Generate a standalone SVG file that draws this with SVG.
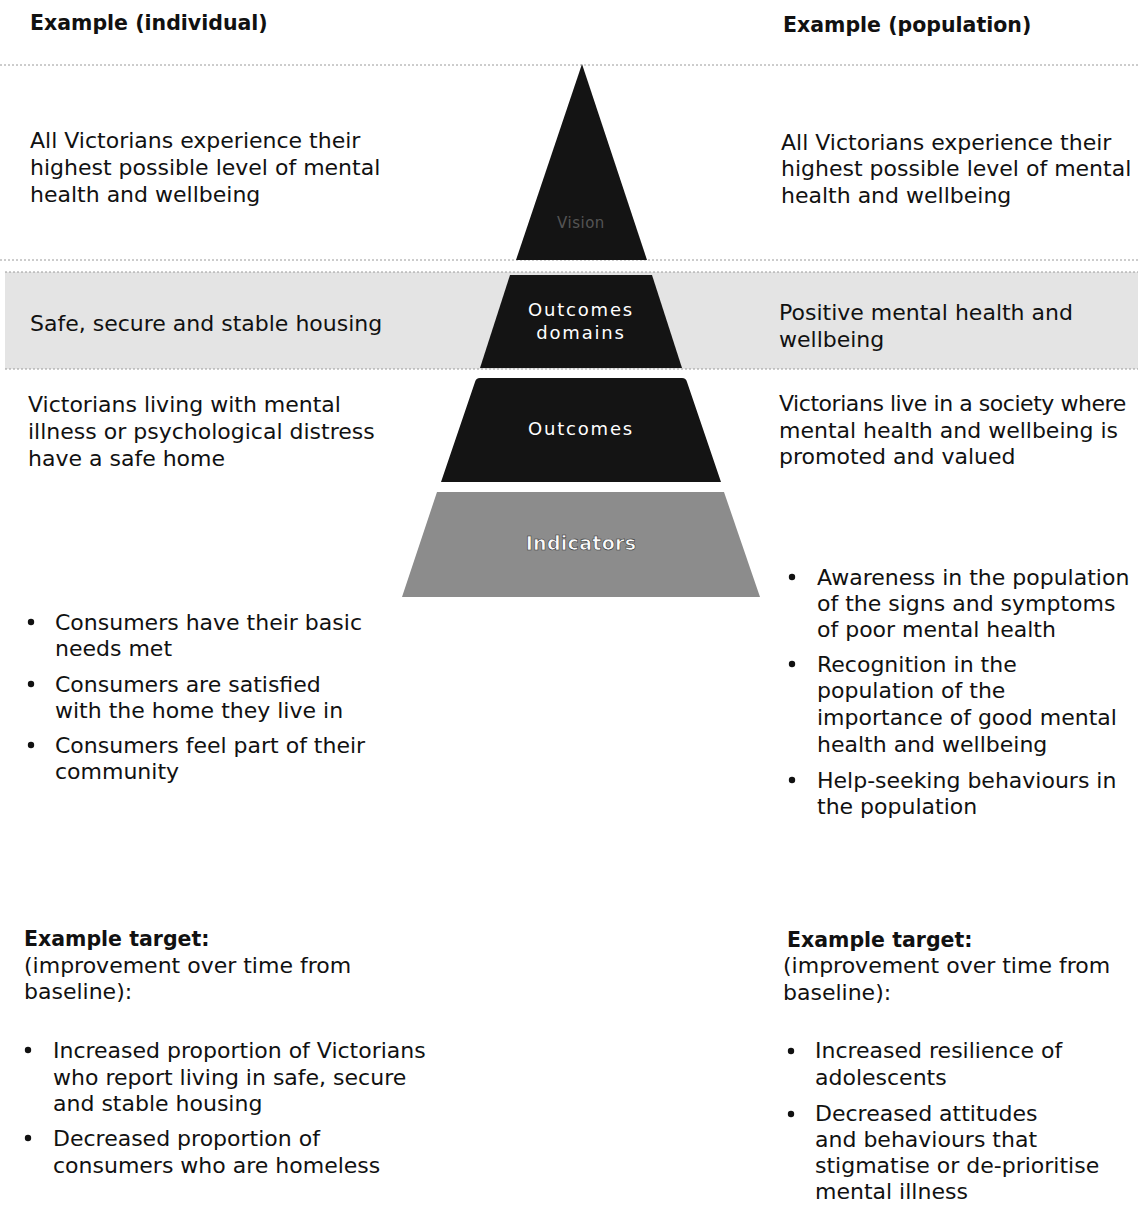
<svg xmlns="http://www.w3.org/2000/svg" width="1138" height="1205" viewBox="0 0 1138 1205">
<style>
  text { font-family: "DejaVu Sans", "Noto Sans", sans-serif; font-size: 22px; fill: #111; }
  .h { font-weight: bold; font-size: 20.5px; }
  .lbl { fill: #fff; font-size: 18px; text-anchor: middle; letter-spacing: 1.8px; }
  .dark { fill: #141414; }
  .sep { stroke: #9a9a9a; stroke-width: 1; stroke-dasharray: 2 2; fill: none; }
  .dot { fill: #111; }
</style>
<rect width="1138" height="1205" fill="#fff"/>

<!-- background band and separators -->
<g id="bands">
  <rect x="5" y="272" width="1133" height="97" fill="#e4e4e4"/>
  <line class="sep" x1="0" y1="65" x2="1138" y2="65"/>
  <line class="sep" x1="0" y1="260" x2="1138" y2="260"/>
  <line class="sep" x1="5" y1="272" x2="1138" y2="272"/>
  <line class="sep" x1="5" y1="369" x2="1138" y2="369"/>
</g>

<g id="connectors"/>

<!-- pyramid -->
<g id="vision">
  <polygon class="dark" points="582,64 647,260 516,260"/>
  <text class="lbl" x="581" y="228" style="fill:#555;font-size:15px;letter-spacing:0.5px">Vision</text>
</g>
<g id="outcomes-domains">
  <polygon class="dark" points="510,275 652,275 682,368 480,368"/>
  <text class="lbl" x="581" y="316">Outcomes</text>
  <text class="lbl" x="581" y="339">domains</text>
</g>
<g id="outcomes">
  <path class="dark" d="M480,378 L682,378 Q686,378 687,382 L721,482 L441,482 L475,382 Q476,378 480,378 Z"/>
  <text class="lbl" x="581" y="435">Outcomes</text>
</g>
<g id="indicators">
  <polygon points="437,492 724,492 760,597 402,597" fill="#8c8c8c"/>
  <text class="lbl" x="581" y="550" style="fill:#fafafa;stroke:#333;stroke-width:0.6;font-size:19px;font-weight:bold;letter-spacing:0.3px">Indicators</text>
</g>

<!-- left column -->
<g id="heading-individual">
  <text class="h" x="30" y="30">Example (individual)</text>
</g>
<g id="vision-individual">
  <text x="30" y="148">All Victorians experience their</text>
  <text x="30" y="175">highest possible level of mental</text>
  <text x="30" y="202">health and wellbeing</text>
</g>
<g id="domain-individual">
  <text x="30" y="331">Safe, secure and stable housing</text>
</g>
<g id="outcome-individual">
  <text x="28" y="412">Victorians living with mental</text>
  <text x="28" y="439">illness or psychological distress</text>
  <text x="28" y="466">have a safe home</text>
</g>
<g id="indicators-individual">
  <circle class="dot" cx="31" cy="622" r="3.2"/>
  <text x="55" y="630">Consumers have their basic</text>
  <text x="55" y="656">needs met</text>
  <circle class="dot" cx="31" cy="684" r="3.2"/>
  <text x="55" y="692">Consumers are satisfied</text>
  <text x="55" y="718">with the home they live in</text>
  <circle class="dot" cx="31" cy="745" r="3.2"/>
  <text x="55" y="753">Consumers feel part of their</text>
  <text x="55" y="779">community</text>
</g>
<g id="target-individual">
  <text class="h" x="24" y="946">Example target:</text>
  <text x="24" y="973">(improvement over time from</text>
  <text x="24" y="999">baseline):</text>
  <circle class="dot" cx="28" cy="1050" r="3.2"/>
  <text x="53" y="1058">Increased proportion of Victorians</text>
  <text x="53" y="1085">who report living in safe, secure</text>
  <text x="53" y="1111">and stable housing</text>
  <circle class="dot" cx="28" cy="1138" r="3.2"/>
  <text x="53" y="1146">Decreased proportion of</text>
  <text x="53" y="1173">consumers who are homeless</text>
</g>

<!-- right column -->
<g id="heading-population">
  <text class="h" x="783" y="32">Example (population)</text>
</g>
<g id="vision-population">
  <text x="781" y="150">All Victorians experience their</text>
  <text x="781" y="176">highest possible level of mental</text>
  <text x="781" y="203">health and wellbeing</text>
</g>
<g id="domain-population">
  <text x="779" y="320">Positive mental health and</text>
  <text x="779" y="347">wellbeing</text>
</g>
<g id="outcome-population">
  <text x="779" y="411" style="letter-spacing:-0.45px">Victorians live in a society where</text>
  <text x="779" y="438">mental health and wellbeing is</text>
  <text x="779" y="464">promoted and valued</text>
</g>
<g id="indicators-population">
  <circle class="dot" cx="792" cy="577" r="3.2"/>
  <text x="817" y="585">Awareness in the population</text>
  <text x="817" y="611">of the signs and symptoms</text>
  <text x="817" y="637">of poor mental health</text>
  <circle class="dot" cx="792" cy="664" r="3.2"/>
  <text x="817" y="672">Recognition in the</text>
  <text x="817" y="698">population of the</text>
  <text x="817" y="725">importance of good mental</text>
  <text x="817" y="752">health and wellbeing</text>
  <circle class="dot" cx="792" cy="780" r="3.2"/>
  <text x="817" y="788">Help-seeking behaviours in</text>
  <text x="817" y="814">the population</text>
</g>
<g id="target-population">
  <text class="h" x="787" y="947">Example target:</text>
  <text x="783" y="973">(improvement over time from</text>
  <text x="783" y="1000">baseline):</text>
  <circle class="dot" cx="791" cy="1051" r="3.2"/>
  <text x="815" y="1058">Increased resilience of</text>
  <text x="815" y="1085">adolescents</text>
  <circle class="dot" cx="791" cy="1114" r="3.2"/>
  <text x="815" y="1121">Decreased attitudes</text>
  <text x="815" y="1147">and behaviours that</text>
  <text x="815" y="1173">stigmatise or de-prioritise</text>
  <text x="815" y="1199">mental illness</text>
</g>
</svg>
